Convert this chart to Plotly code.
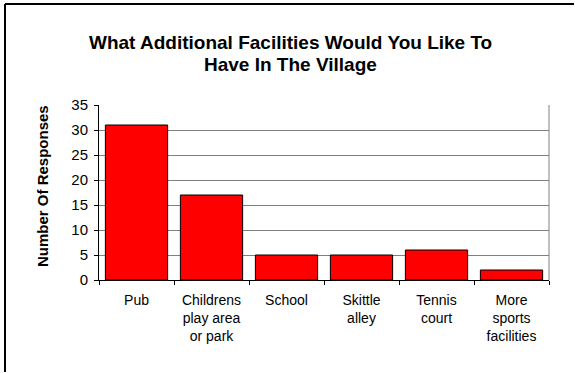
import plotly.graph_objects as go

# Survey results: additional facilities wanted in the village
categories = [
    "Pub",
    "Childrens<br>play area<br>or park",
    "School",
    "Skittle<br>alley",
    "Tennis<br>court",
    "More<br>sports<br>facilities",
]
responses = [31, 17, 5, 5, 6, 2]
y_ticks = [0, 5, 10, 15, 20, 25, 30, 35]
title_lines = [
    "What Additional Facilities Would You Like To",
    "Have In The Village",
]

W, H = 575, 373
L, R, T, B = 99, 26, 105, 93
pw, ph = W - L - R, H - T - B


def px_x(px):
    return (px - L) / pw


def px_y(py):
    return (H - B - py) / ph


fig = go.Figure(
    go.Bar(
        x=categories,
        y=responses,
        marker=dict(color="#FF0000", line=dict(color="#000000", width=1)),
    )
)

font = "Liberation Sans, Arial, sans-serif"

# two-line bold title, one annotation per line for tight leading
title_annotations = [
    dict(
        text=f"<b>{line}</b>",
        x=px_x(290),
        y=px_y(cy),
        xref="paper",
        yref="paper",
        xanchor="center",
        yanchor="middle",
        showarrow=False,
        font=dict(family=font, size=19, color="black"),
    )
    for line, cy in zip(title_lines, [43, 65])
]

fig.update_layout(
    width=W,
    height=H,
    margin=dict(l=L, r=R, t=T, b=B),
    paper_bgcolor="white",
    plot_bgcolor="white",
    bargap=0.17,
    showlegend=False,
    font=dict(family=font, size=14, color="black"),
    xaxis=dict(
        showline=True,
        linecolor="black",
        linewidth=1,
        ticks="outside",
        tickson="boundaries",
        ticklen=4,
        tickcolor="black",
        showgrid=False,
        tickfont=dict(size=14),
        ticklabelstandoff=7,
    ),
    yaxis=dict(
        range=[0, 35],
        tickvals=y_ticks,
        showline=True,
        linecolor="black",
        linewidth=1,
        ticks="outside",
        ticklen=4,
        tickcolor="black",
        showgrid=True,
        gridcolor="#808080",
        gridwidth=1,
        zeroline=False,
        tickfont=dict(size=15),
        ticklabelstandoff=3,
    ),
    annotations=title_annotations + [
        dict(
            text="<b>Number Of Responses</b>",
            textangle=-90,
            x=px_x(42),
            y=px_y(186),
            xref="paper",
            yref="paper",
            xanchor="center",
            yanchor="middle",
            showarrow=False,
            font=dict(family=font, size=15, color="black"),
        )
    ],
    shapes=[
        # right edge of the plot frame
        dict(type="line", xref="paper", yref="paper", x0=1, x1=1, y0=0, y1=1,
             line=dict(color="#808080", width=1)),
        # outer chart border (left and top edges)
        dict(type="line", xref="paper", yref="paper",
             x0=px_x(5), x1=px_x(5), y0=px_y(H - 1), y1=px_y(4),
             line=dict(color="black", width=2), layer="above"),
        dict(type="line", xref="paper", yref="paper",
             x0=px_x(5), x1=px_x(W - 1), y0=px_y(4), y1=px_y(4),
             line=dict(color="black", width=2), layer="above"),
    ],
)

fig.write_html("out.html")
